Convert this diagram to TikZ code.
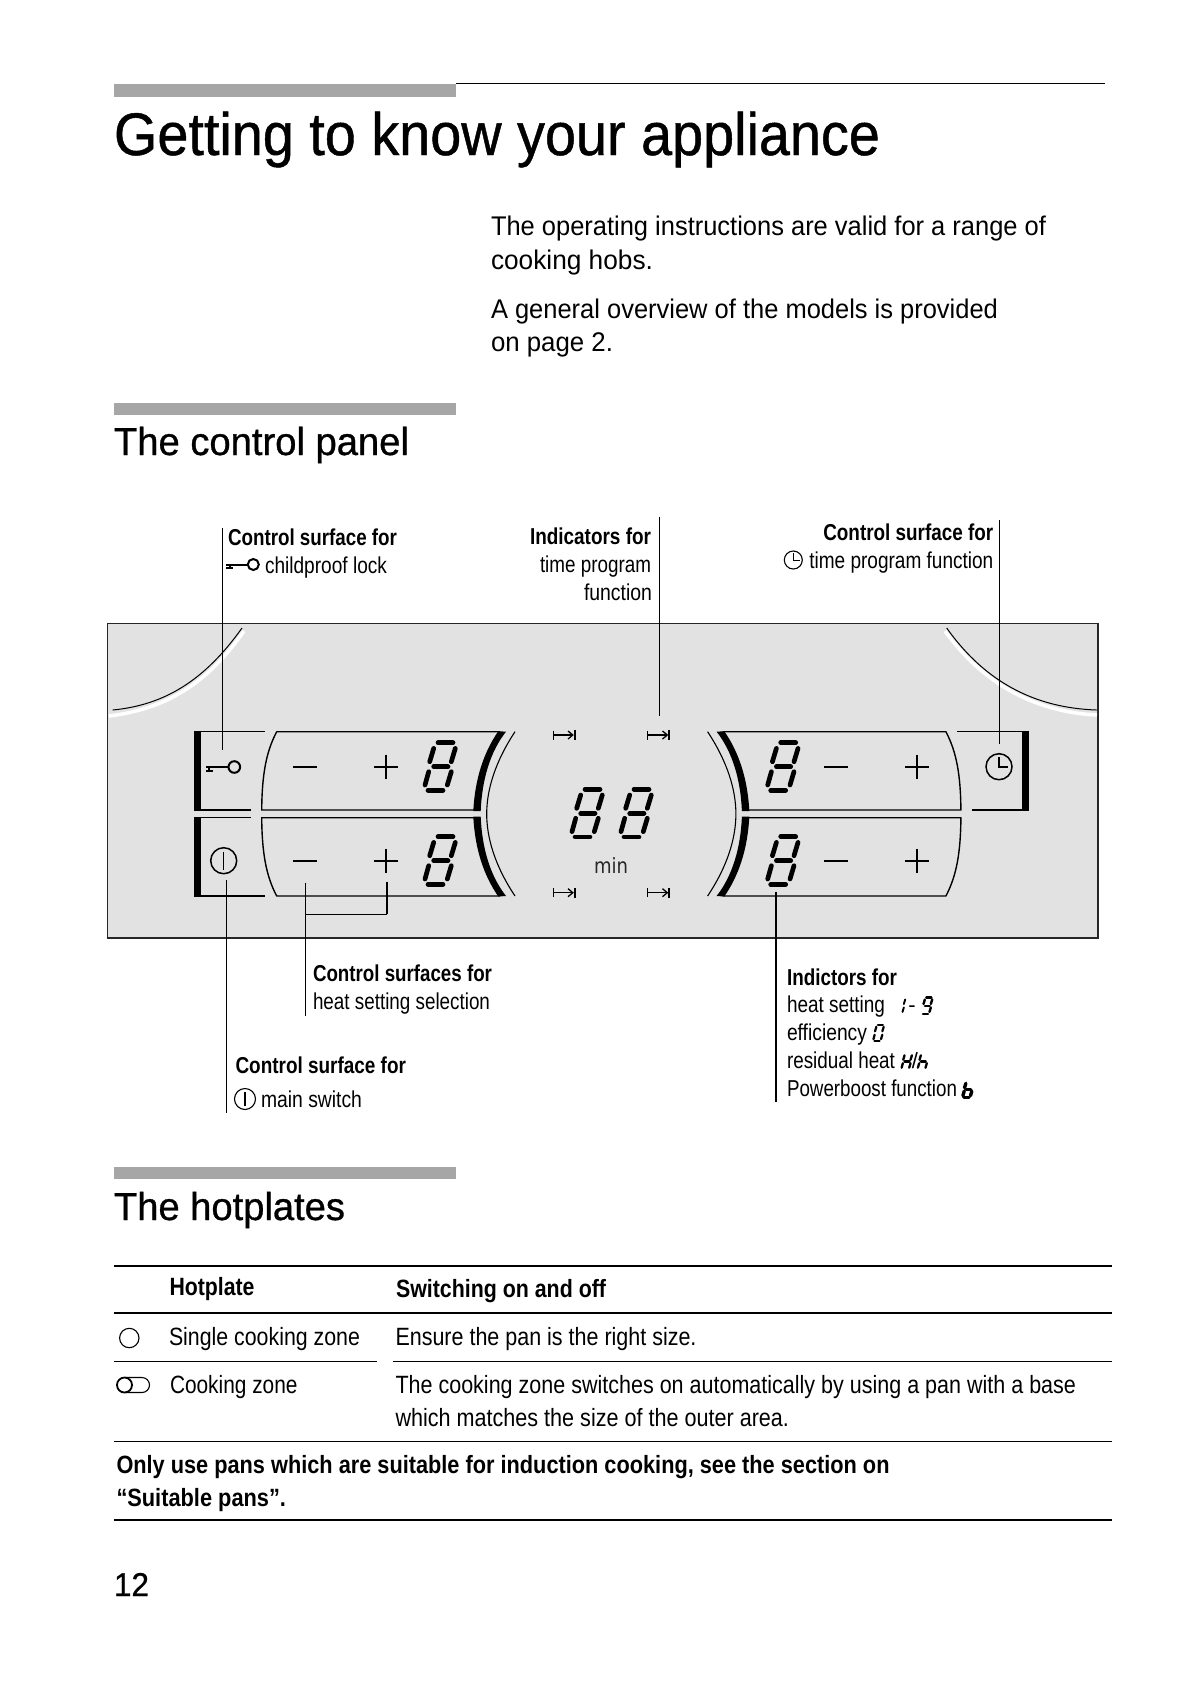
\documentclass[tikz,border=0pt]{standalone}
\usepackage{graphicx}
\usepackage{fontspec}
\setmainfont{Liberation Sans}
\newfontfamily\medfont[FakeBold=0.8]{Liberation Sans}
\tikzset{
  txt/.style={inner sep=0pt,outer sep=0pt,text=black},
  bar/.style={fill=barcol,draw=none},
  rule/.style={draw=black,line width=#1},
  callout/.style={draw=black,line width=1.1pt},
}
\definecolor{barcol}{HTML}{A6A6A6}
\definecolor{panelcol}{HTML}{E2E2E2}
% name, anchor, x, y, width, size, font, text
\newcommand{\tx}[8]{\node[txt,anchor=#2] (#1) at (#3,#4) {\resizebox{#5pt}{\height}{\fontsize{#6}{#6}\selectfont#7#8}};}
% seven segments
\newcommand{\sega}{\draw (-2,-24) -- (13,-24);}
\newcommand{\segb}{\draw (15.3,-18.3) -- (11.3,-5);}
\newcommand{\segc}{\draw (11.3,5) -- (7.3,18.3);}
\newcommand{\segd}{\draw (-12,23.6) -- (3,23.6);}
\newcommand{\sege}{\draw (-11.3,5) -- (-15,18.3);}
\newcommand{\segf}{\draw (-6.3,-18.3) -- (-10.3,-5);}
\newcommand{\segg}{\draw (-6.3,0) -- (8,0);}
% x, y, scale, linewidth, segments
\newcommand{\sevseg}[5]{\begin{scope}[shift={(#1,#2)},scale=#3,line width=#4pt,line cap=round,draw=black]
  \foreach \s in {#5}{\csname seg\s\endcsname}
\end{scope}}
\newcommand{\eight}[2]{\sevseg{#1}{#2}{1}{4.7}{a,b,c,d,e,f,g}}
\newcommand{\jump}[2]{\begin{scope}[shift={(#1,#2)},draw=black,line width=1.3pt]
  \draw (-10.7,-4.5) -- (-10.7,4.5);
  \draw (-10.7,0) -- (8,0);
  \draw (4,-4) -- (8.8,0) -- (4,4);
  \draw[line width=1.8pt] (10.7,-5) -- (10.7,5);
\end{scope}}
\newcommand{\keyicon}[3]{\begin{scope}[shift={(#1,#2)},scale=#3]
  \draw[line width=2pt] (0,0) circle (5.8);
  \draw[line width=2pt] (-5.8,0) -- (-28.5,0);
  \fill (-28.5,2.5) rectangle (-21,4.7);
  \fill (-26,0) rectangle (-24,3);
\end{scope}}
\newcommand{\minusm}[2]{\draw[line width=1.8pt] (#1-12,#2) -- (#1+12,#2);}
\newcommand{\plusm}[2]{\draw[line width=1.8pt] (#1-12,#2) -- (#1+12,#2) (#1,#2-12) -- (#1,#2+12);}
% one button field, drawn for the top left; other three by transformation
\newcommand{\field}{%
  \draw[line width=1.4pt,line join=round] (480,810) -- (261.7,810) .. controls (262,775) and (266,752) .. (276.7,731.7) -- (500,731.7);
  \fill (506,731.7) .. controls (490,752) and (482,780) .. (480.7,811) -- (473.3,811) .. controls (475,778) and (484,752) .. (498.3,731.2) -- cycle;
}
\newcommand{\halfarc}{\draw[line width=1.1pt] (515,731.7) .. controls (495,762) and (486.7,790) .. (486.7,813.85) .. controls (486.7,838) and (495,866) .. (515,896);}
\begin{document}
\begin{tikzpicture}[x=1pt,y=-1pt]
\useasboundingbox (0,0) rectangle (1191,1684);
\fill[white] (0,0) rectangle (1191,1684);
% header
\fill[bar] (114,84) rectangle (456,97);
\draw[rule=1pt] (456,83.5) -- (1105,83.5);
\tx{title}{base west}{114}{155}{766}{60}{\medfont}{Getting to know your appliance}
\tx{b1}{base west}{491}{235}{555}{27}{}{The operating instructions are valid for a range of}
\tx{b2}{base west}{491}{269}{162}{27}{}{cooking hobs.}
\tx{b3}{base west}{491}{318}{507}{27}{}{A general overview of the models is provided}
\tx{b4}{base west}{491}{351}{122}{27}{}{on page 2.}
\fill[bar] (114,403) rectangle (456,415);
\tx{h2}{base west}{114}{455}{295}{39}{\medfont}{The control panel}
% panel
\filldraw[fill=panelcol,draw=black!85,line width=1.2pt] (107.5,623.7) rectangle (1098,938);
% hob arcs
\draw[white,line width=3.5pt] (244,631) .. controls (207,684) and (166,709) .. (109,716);
\draw[line width=1pt] (242,628) .. controls (205,680) and (165,705) .. (112.7,710);
\draw[white,line width=3.5pt] (945,631) .. controls (983,684) and (1035,712) .. (1097,715);
\draw[line width=1pt] (946.7,628) .. controls (985,682) and (1035,708) .. (1096.7,710);
% left brackets
\fill (193.7,731) rectangle (201,810.7);
\fill (193.7,817) rectangle (201,896.7);
\draw[line width=1.4pt] (195,731.7) -- (265,731.7) (195,810) -- (250.7,810);
\draw[line width=1.4pt] (195,817.7) -- (250.7,817.7) (195,896) -- (265,896);
% right bracket
\fill (1021.7,731) rectangle (1029,810.7);
\draw[line width=1.4pt] (957.3,731.7) -- (1025,731.7) (971.7,810) -- (1025,810);
% fields
\field
\begin{scope}[shift={(0,1627.7)},yscale=-1]\field\end{scope}
\begin{scope}[shift={(1222.6,0)},xscale=-1]\field\end{scope}
\begin{scope}[shift={(1222.6,1627.7)},xscale=-1,yscale=-1]\field\end{scope}
\halfarc
\begin{scope}[shift={(1222.6,0)},xscale=-1]\halfarc\end{scope}
% controls
\minusm{305}{766.7}\plusm{386}{766.7}
\minusm{305}{860.7}\plusm{386}{860.7}
\minusm{836}{766.7}\plusm{917.3}{766.7}
\minusm{836}{860.7}\plusm{917.3}{860.7}
\eight{440}{766.7}\eight{440}{860.7}
\eight{782.7}{766.7}\eight{782.7}{860.7}
\eight{587}{813.3}\eight{636}{813.3}
\jump{564}{735}\jump{658.5}{735}\jump{564}{892.7}\jump{658.5}{892.7}
\node[inner sep=0pt,anchor=base,text=black!85] (minlabel) at (611,873) {\resizebox{34pt}{\height}{\fontsize{21}{21}\selectfont\fontspec{DejaVu Sans}min}};
% icons in panel
\keyicon{234.3}{767}{1}
\draw[line width=1.5pt] (223.7,860.7) circle (13);
\draw[line width=1.5pt] (223.7,851.5) -- (223.7,869.5);
\draw[line width=1.5pt] (999,766.7) circle (13);
\draw[line width=1.5pt] (999,757) -- (999,767.2) -- (1008,767.2);
% callouts
\coordinate (ca1) at (222.7,528); \coordinate (ca2) at (222.7,750);
\coordinate (cb1) at (659.3,516.7); \coordinate (cb2) at (659.3,716);
\coordinate (cc1) at (999.3,520); \coordinate (cc2) at (999.3,744);
\coordinate (cd1) at (226.7,880); \coordinate (cd2) at (226.7,1112.7);
\coordinate (ce1) at (305.5,882.7); \coordinate (ce2) at (305.5,1015.7); \coordinate (ce3) at (305.5,914.3);
\coordinate (cf1) at (386.7,881.7); \coordinate (cf2) at (386.7,914.3);
\coordinate (cg1) at (776,891.7); \coordinate (cg2) at (776,1101.7);
\draw[callout,line width=1.5pt] (ca1) -- (ca2);
\draw[callout] (cb1) -- (cb2);
\draw[callout] (cc1) -- (cc2);
\draw[callout] (cd1) -- (cd2);
\draw[callout] (ce1) -- (ce2);
\draw[callout] (ce3) -- (cf2);
\draw[callout,line width=1.6pt] (cf1) -- (cf2);
\draw[callout] (cg1) -- (cg2);
% top labels
\tx{la1}{base west}{228}{545}{169}{23}{\bfseries}{Control surface for}
\tx{la2}{base west}{265}{573}{122}{23}{}{childproof lock}
\keyicon{253.3}{564.5}{0.95}
\tx{lb1}{base east}{651}{544}{121}{23}{\bfseries}{Indicators for}
\tx{lb2}{base east}{651}{572}{111}{23}{}{time program}
\tx{lb3}{base east}{652}{600}{68}{23}{}{function}
\tx{lc1}{base east}{993.3}{540}{170}{23}{\bfseries}{Control surface for}
\tx{lc2}{base east}{993.3}{568}{184}{23}{}{time program function}
\draw[line width=1.1pt] (793.3,560) circle (9);
\draw[line width=1.1pt] (793.3,553) -- (793.3,560.5) -- (800,560.5);
% bottom labels
\tx{ld1}{base west}{313}{981}{179}{23}{\bfseries}{Control surfaces for}
\tx{ld2}{base west}{313}{1009}{177}{23}{}{heat setting selection}
\tx{le1}{base west}{235.5}{1073}{170.5}{23}{\bfseries}{Control surface for}
\tx{le2}{base west}{261}{1107}{101}{23}{}{main switch}
\draw[line width=1.1pt] (245,1099) circle (10.5);
\draw[line width=1.1pt] (245,1092) -- (245,1106);
\tx{lf1}{base west}{787}{985}{110}{23}{\bfseries}{Indictors for}
\tx{lf2}{base west}{787}{1012}{98}{23}{}{heat setting}
\tx{lf3}{base west}{787}{1040}{80}{23}{}{efficiency}
\tx{lf4}{base west}{787}{1068}{108}{23}{}{residual heat}
\tx{lf5}{base west}{787}{1096}{170}{23}{}{Powerboost function}
\sevseg{900}{1005.7}{0.34}{1.9}{b,c}
\node[txt,anchor=base] (dash) at (912,1012) {\fontsize{22}{22}\selectfont -};
\sevseg{927}{1005.7}{0.34}{2.4}{a,b,c,d,f,g}
\sevseg{878.5}{1033}{0.34}{2.2}{a,b,c,d,e,f}
\sevseg{906.7}{1061.5}{0.34}{2.3}{b,c,e,f,g}
\node[txt,anchor=base] (slash) at (915,1068) {\fontsize{22}{22}\selectfont /};
\sevseg{923}{1061.5}{0.34}{2.3}{c,e,f,g}
\sevseg{968}{1089.5}{0.34}{3.4}{c,d,e,f,g}
% hotplates
\fill[bar] (114,1167) rectangle (456,1179);
\tx{h3}{base west}{114}{1220}{231}{39}{\medfont}{The hotplates}
\draw[rule=2pt] (114,1265.7) -- (1112,1265.7);
\draw[rule=2pt] (114,1313.3) -- (1112,1313.3);
\draw[rule=1.1pt] (114,1361.7) -- (376.7,1361.7) (393.3,1361.7) -- (1112,1361.7);
\draw[rule=1.3pt] (114,1441.7) -- (1112,1441.7);
\draw[rule=2pt] (114,1520) -- (1112,1520);
\tx{t1}{base west}{169.5}{1295}{85}{25}{\bfseries}{Hotplate}
\tx{t2}{base west}{396}{1297}{210}{25}{\bfseries}{Switching on and off}
\tx{t3}{base west}{169}{1345}{191}{25}{}{Single cooking zone}
\tx{t4}{base west}{395.5}{1345}{301}{25}{}{Ensure the pan is the right size.}
\tx{t5}{base west}{170}{1393}{127.5}{25}{}{Cooking zone}
\tx{t6}{base west}{395.5}{1393}{680.5}{25}{}{The cooking zone switches on automatically by using a pan with a base}
\tx{t7}{base west}{395.5}{1426}{393.5}{25}{}{which matches the size of the outer area.}
\tx{t8}{base west}{116.5}{1473}{773}{25}{\bfseries}{Only use pans which are suitable for induction cooking, see the section on}
\tx{t9}{base west}{116.5}{1506}{169.5}{25}{\bfseries}{“Suitable pans”.}
\draw[line width=1.1pt] (129.3,1338) circle (9.7);
\draw[line width=1.1pt] (125,1377.5) -- (142,1377.5) arc (-90:90:7.5) -- (125,1392.5);
\draw[line width=1.8pt] (124.5,1385) circle (7.5);
\tx{pg}{base west}{114}{1596}{35}{33}{\medfont}{12}
\end{tikzpicture}
\end{document}
